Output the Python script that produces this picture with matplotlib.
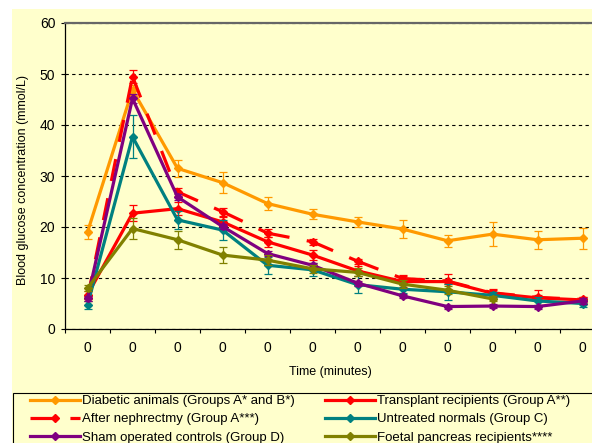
import numpy as np
import matplotlib
matplotlib.use('Agg')
import matplotlib.pyplot as plt
from matplotlib.lines import Line2D
from matplotlib.patches import Rectangle

plt.rcParams['font.family'] = ['Liberation Sans', 'DejaVu Sans']

# ---------------- data ----------------
time_labels = ['0', '0', '0', '0', '0', '0', '0', '0', '0', '0', '0', '0']

diabetic = [19.0, 46.9, 31.5, 28.7, 24.6, 22.5, 21.0, 19.6, 17.3, 18.6, 17.5, 17.8]
diabetic_err = [1.3, 1.0, 1.7, 2.0, 1.2, 1.0, 1.0, 1.8, 1.2, 2.3, 1.8, 2.1]

transplant = [6.7, 22.7, 23.6, 21.0, 17.1, 14.5, 11.4, 9.3, 9.3, 7.0, 6.1, 5.7]
transplant_err = [0.8, 1.6, 1.3, 1.0, 1.0, 1.0, 1.0, 1.0, 1.5, 0.8, 1.5, 0.6]

nephrectomy = [6.0, 49.5, 26.9, 23.0, 18.8, 17.1, 13.3, 9.9, 9.4, 7.1, 6.2, 5.8]
nephrectomy_err = [0.5, 1.2, 0.8, 0.8, 0.8, 0.6, 0.5, 0.6, 0.5, 0.5, 0.5, 0.5]

untreated = [4.7, 37.7, 21.4, 19.4, 12.5, 11.6, 8.7, 7.8, 7.3, 6.6, 5.5, 5.0]
untreated_err = [0.8, 4.2, 1.8, 2.0, 1.7, 1.3, 1.6, 0.8, 1.6, 0.6, 0.8, 0.7]

sham = [6.0, 45.2, 25.9, 20.1, 14.8, 12.5, 9.0, 6.5, 4.4, 4.5, 4.4, 5.5]
sham_err = [0.5, 0.8, 0.6, 0.5, 0.5, 0.5, 0.5, 0.4, 0.4, 0.4, 0.4, 0.5]

foetal = [8.0, 19.7, 17.5, 14.5, 13.5, 11.8, 11.1, 8.8, 7.6, 5.9, np.nan, np.nan]
foetal_err = [0.6, 2.0, 1.8, 1.5, 1.0, 0.8, 0.8, 0.8, 0.8, 0.5, np.nan, np.nan]

labels = ['Diabetic animals (Groups A* and B*)',
          'Transplant recipients (Group A**)',
          'After nephrectmy (Group A***)',
          'Untreated normals (Group C)',
          'Sham operated controls (Group D)',
          'Foetal pancreas recipients****']

# ---------------- style ----------------
W, H = 592, 443
BG = '#FFFFCC'
C_OR = '#FF9900'
C_RED = '#FF0000'
C_TEAL = '#008080'
C_PUR = '#800080'
C_OLV = '#808000'
LW = 2.3
MS = 4.5
DASH = (0, (7.0, 5.5))

fig = plt.figure(figsize=(W / 100, H / 100), dpi=100)
fig.patch.set_facecolor('white')
fig.patches.append(Rectangle((12 / W, 0), 1, 1 - 9 / H, transform=fig.transFigure,
                             facecolor=BG, edgecolor='none', zorder=-10))

ax = fig.add_axes([65 / W, (H - 329) / H, 540 / W, 306 / H])
ax.set_facecolor(BG)

x = np.arange(len(time_labels))

series = [
    (diabetic, diabetic_err, C_OR, 'solid'),
    (transplant, transplant_err, C_RED, 'solid'),
    (nephrectomy, nephrectomy_err, C_RED, 'dash'),
    (untreated, untreated_err, C_TEAL, 'solid'),
    (sham, sham_err, C_PUR, 'solid'),
    (foetal, foetal_err, C_OLV, 'solid'),
]

handles = []
for i, (vals, err, col, style) in enumerate(series):
    z = 3 + i
    vals = np.asarray(vals, dtype=float)
    err = np.asarray(err, dtype=float)
    ax.errorbar(x, vals, yerr=err, fmt='none', ecolor=col, elinewidth=0.9,
                capsize=3, capthick=0.9, zorder=z)
    if style == 'solid':
        ax.plot(x, vals, color=col, lw=LW, marker='D', ms=MS, zorder=z + 0.5)
        handles.append(Line2D([], [], color=col, lw=LW, marker='D', ms=MS))
    else:
        for k in range(len(x) - 1):
            ax.plot(x[k:k + 2], vals[k:k + 2], color=col, lw=LW, ls=DASH,
                    zorder=z + 0.5)
        ax.plot(x, vals, ls='none', color=col, marker='D', ms=MS, zorder=z + 0.6)
        handles.append(Line2D([], [], color=col, lw=LW, ls=DASH, marker='D', ms=MS))

ax.set_xlim(-0.5, len(x) - 0.5)
ax.set_ylim(0, 60)
ax.set_xticks(x)
ax.set_xticklabels(time_labels, fontsize=10)
ax.set_xticks(np.arange(-0.5, len(x), 1.0), minor=True)
ax.tick_params(axis='x', which='major', length=0, pad=9)
ax.tick_params(axis='x', which='minor', length=3, width=0.8, direction='out')
ax.set_yticks(range(0, 61, 10))
ax.tick_params(axis='y', length=3, width=0.8, direction='out', pad=4, labelsize=10)

ax.set_axisbelow(True)
ax.yaxis.grid(True, linestyle=(0, (3, 3)), color='black', lw=0.8)
ax.spines['right'].set_visible(False)
ax.spines['top'].set_color('#666666')
ax.spines['top'].set_linewidth(1.6)
ax.spines['left'].set_color('black')
ax.spines['bottom'].set_color('black')
ax.spines['left'].set_linewidth(0.9)
ax.spines['bottom'].set_linewidth(0.9)

fig.text(23 / W, 1 - 180 / H, 'Blood glucose concentration (mmol/L)', rotation=90,
         ha='center', va='center', fontsize=9)
fig.text(330 / W, 1 - 372 / H, 'Time (minutes)', ha='center', va='center', fontsize=9)

# legend (two columns, row-wise order)
col1 = [0, 2, 4]
col2 = [1, 3, 5]
for cols, xpos in ((col1, 30), (col2, 325)):
    leg = fig.legend([handles[i] for i in cols], [labels[i] for i in cols],
                     loc='upper left', bbox_to_anchor=(xpos / W, 1 - 395 / H),
                     frameon=False, fontsize=9.5, handlelength=3.8,
                     handletextpad=0.15, borderpad=0, borderaxespad=0,
                     labelspacing=0.45, numpoints=1)
fig.patches.append(Rectangle((13 / W, -0.2), (640 - 13) / W, (H - 393) / H + 0.2,
                             transform=fig.transFigure, fill=False,
                             edgecolor='black', lw=0.8, zorder=5))

fig.savefig('out.png', dpi=100, facecolor=fig.get_facecolor())
